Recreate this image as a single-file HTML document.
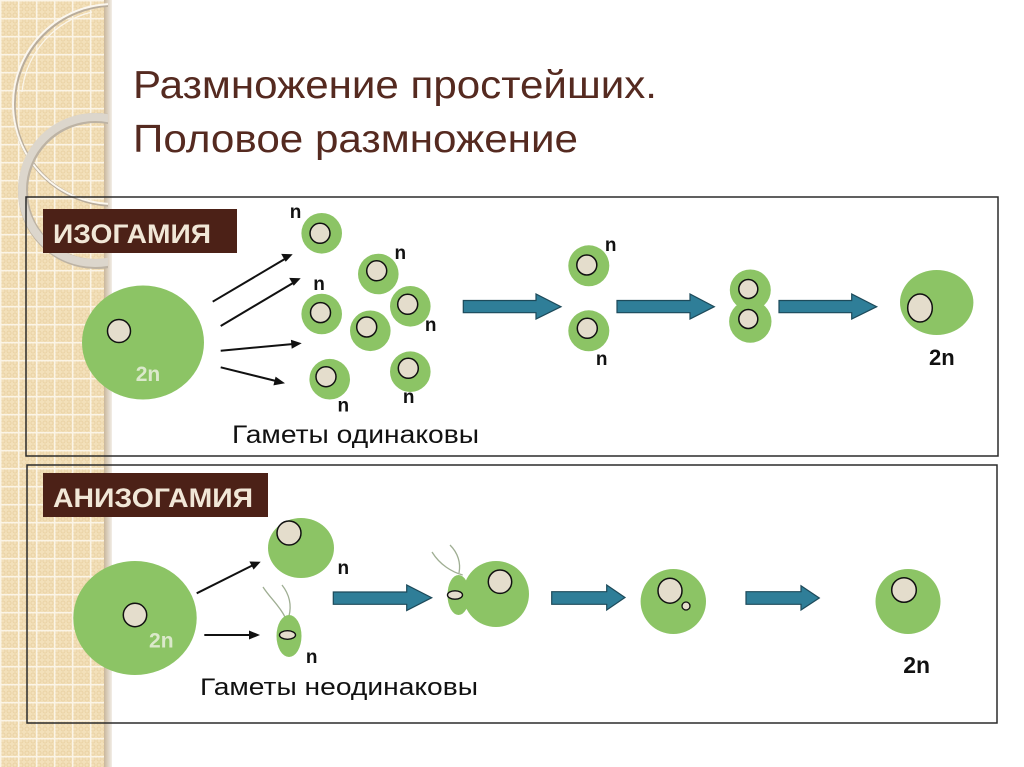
<!DOCTYPE html>
<html><head><meta charset="utf-8">
<style>
html,body{margin:0;padding:0;background:#fff;}
svg{display:block;}
text{font-family:"Liberation Sans","DejaVu Sans",sans-serif;}
</style></head>
<body>
<svg width="1024" height="767" viewBox="0 0 1024 767" xmlns="http://www.w3.org/2000/svg">
<defs>
  <pattern id="dots" width="6" height="6" patternUnits="userSpaceOnUse">
    <rect width="6" height="6" fill="#f3e0ba"/>
    <circle cx="3" cy="3" r="2" fill="none" stroke="#e9d1a3" stroke-width="0.9"/>
  </pattern>
  <pattern id="grid" width="18" height="18" patternUnits="userSpaceOnUse">
    <rect width="18" height="18" fill="url(#dots)"/>
    <rect x="0" y="0" width="1.5" height="18" fill="#fbf4e6"/>
    <rect x="0" y="0" width="18" height="1.5" fill="#fbf4e6"/>
  </pattern>
  <linearGradient id="shadow" x1="0" x2="1" y1="0" y2="0">
    <stop offset="0" stop-color="#c9b79c"/>
    <stop offset="1" stop-color="#f2ede6"/>
  </linearGradient>
  <clipPath id="stripclip"><rect x="0" y="0" width="108" height="767"/></clipPath>
</defs>

<!-- left decorative strip -->
<rect x="0" y="0" width="108" height="767" fill="url(#grid)"/>
<rect x="104" y="0" width="8" height="767" fill="url(#shadow)"/>
<g clip-path="url(#stripclip)" fill="none">
  <circle cx="114" cy="105" r="100" stroke="#b9ad9c" stroke-width="3.5"/>
  <circle cx="113" cy="104" r="100" stroke="#fbf7ef" stroke-width="2"/>
  <circle cx="96" cy="191" r="73" stroke="#bdb3a4" stroke-width="10"/>
  <circle cx="95" cy="190" r="73" stroke="#dcd6cc" stroke-width="8"/>
  <path d="M92 12 A 92 92 0 0 0 22 92" stroke="#fbf6ec" stroke-width="1.2"/>
</g>

<!-- title -->
<text x="133" y="98" font-size="39" fill="#552a20" textLength="524" lengthAdjust="spacingAndGlyphs">Размножение простейших.</text>
<text x="133" y="152" font-size="39" fill="#552a20" textLength="445" lengthAdjust="spacingAndGlyphs">Половое размножение</text>

<!-- frames -->
<rect x="26" y="197" width="972" height="259" fill="none" stroke="#2b2b2b" stroke-width="1.5"/>
<rect x="27" y="465" width="970" height="258" fill="none" stroke="#2b2b2b" stroke-width="1.5"/>

<!-- labels -->
<rect x="43" y="209" width="194" height="44" fill="#4c2117"/>
<text x="53" y="243" font-size="27" font-weight="bold" fill="#f1e7d7" textLength="158" lengthAdjust="spacingAndGlyphs">ИЗОГАМИЯ</text>
<rect x="43" y="473" width="225" height="44" fill="#4c2117"/>
<text x="53" y="507" font-size="27" font-weight="bold" fill="#f1e7d7" textLength="200" lengthAdjust="spacingAndGlyphs">АНИЗОГАМИЯ</text>

<!-- ===== ISOGAMY ===== -->
<g>
  <ellipse cx="143" cy="342.5" rx="61" ry="57" fill="#8cc465"/>
  <circle cx="119" cy="331" r="11.5" fill="#e4ddcc" stroke="#111" stroke-width="1.5"/>
  <text x="148" y="381" font-size="21" font-weight="bold" fill="#dbe9cb" text-anchor="middle">2n</text>

  <!-- black arrows -->
  <g stroke="#111" stroke-width="2" fill="#111">
    <line x1="212.7" y1="301.7" x2="285" y2="258.9"/>
    <line x1="220.7" y1="326" x2="293" y2="283"/>
    <line x1="220.7" y1="350.7" x2="292" y2="344.1"/>
    <line x1="220.7" y1="367.3" x2="276" y2="381"/>
  </g>
  <g fill="#111">
    <polygon points="292.7,254.3 281.2,253.9 285.7,261.7"/>
    <polygon points="300.7,278.3 289.2,277.9 293.7,285.7"/>
    <polygon points="301.7,343.3 290.9,339.8 291.7,348.8"/>
    <polygon points="285,383.3 275.6,376.6 273.4,385.4"/>
  </g>

  <!-- gametes -->
  <g fill="#8cc465">
    <circle cx="321.7" cy="233.3" r="20.3"/>
    <circle cx="378.3" cy="274" r="20.3"/>
    <circle cx="321.7" cy="314" r="20.3"/>
    <circle cx="410.3" cy="306.3" r="20.3"/>
    <circle cx="370.3" cy="330.8" r="20.3"/>
    <circle cx="329.7" cy="379.2" r="20.3"/>
    <circle cx="410.3" cy="371.7" r="20.3"/>
  </g>
  <g fill="#e4ddcc" stroke="#111" stroke-width="1.5">
    <circle cx="320" cy="233.3" r="10"/>
    <circle cx="376.7" cy="270.8" r="10"/>
    <circle cx="320.5" cy="312.6" r="10"/>
    <circle cx="407.7" cy="304.3" r="10"/>
    <circle cx="366.7" cy="327" r="10"/>
    <circle cx="326" cy="376.7" r="10"/>
    <circle cx="408.3" cy="368.3" r="10"/>
  </g>
  <g font-size="19" font-weight="bold" fill="#111" text-anchor="middle">
    <text x="295.5" y="218">n</text>
    <text x="400.3" y="259">n</text>
    <text x="319" y="290">n</text>
    <text x="430.7" y="331">n</text>
    <text x="343.3" y="411.5">n</text>
    <text x="408.7" y="403">n</text>
  </g>
  <text x="232" y="443" font-size="25" fill="#111" textLength="247" lengthAdjust="spacingAndGlyphs">Гаметы одинаковы</text>

  <!-- teal arrows -->
  <g fill="#2f7e98" stroke="#1d4a5a" stroke-width="1.2" stroke-linejoin="miter">
    <polygon points="463.3,300.5 536,300.5 536,294 561,306.7 536,319 536,312.7 463.3,312.7"/>
    <polygon points="617,300.5 690,300.5 690,294 714.3,306.7 690,319 690,312.7 617,312.7"/>
    <polygon points="779,300.5 851.7,300.5 851.7,294 876.7,306.7 851.7,319 851.7,312.7 779,312.7"/>
  </g>

  <!-- pair -->
  <circle cx="588.8" cy="265.8" r="20.5" fill="#8cc465"/>
  <circle cx="588.8" cy="330.8" r="20.5" fill="#8cc465"/>
  <circle cx="586.8" cy="265" r="10" fill="#e4ddcc" stroke="#111" stroke-width="1.5"/>
  <circle cx="587.3" cy="328.3" r="10" fill="#e4ddcc" stroke="#111" stroke-width="1.5"/>
  <text x="610.7" y="251" font-size="19" font-weight="bold" fill="#111" text-anchor="middle">n</text>
  <text x="601.7" y="365" font-size="19" font-weight="bold" fill="#111" text-anchor="middle">n</text>

  <!-- fusing -->
  <circle cx="750.3" cy="290" r="20.5" fill="#8cc465"/>
  <circle cx="750.3" cy="321.5" r="21.2" fill="#8cc465"/>
  <circle cx="748.3" cy="289" r="9.5" fill="#e4ddcc" stroke="#111" stroke-width="1.5"/>
  <circle cx="748.3" cy="319" r="9.5" fill="#e4ddcc" stroke="#111" stroke-width="1.5"/>

  <!-- zygote -->
  <ellipse cx="936.7" cy="302.5" rx="36.7" ry="32.5" fill="#8cc465"/>
  <ellipse cx="920" cy="308" rx="12.3" ry="14" fill="#e4ddcc" stroke="#111" stroke-width="1.5"/>
  <text x="941.8" y="365" font-size="22" font-weight="bold" fill="#111" text-anchor="middle">2n</text>
</g>

<!-- ===== ANISOGAMY ===== -->
<g>
  <ellipse cx="135" cy="618" rx="61.7" ry="57" fill="#8cc465"/>
  <circle cx="135" cy="615" r="11.7" fill="#e4ddcc" stroke="#111" stroke-width="1.5"/>
  <text x="161.3" y="647.5" font-size="21" font-weight="bold" fill="#dbe9cb" text-anchor="middle">2n</text>

  <!-- black arrows -->
  <line x1="196.7" y1="593.3" x2="252.5" y2="565.4" stroke="#111" stroke-width="2"/>
  <polygon points="260.7,561.7 249.4,561.5 253.6,569.6" fill="#111"/>
  <line x1="204.3" y1="635" x2="250" y2="635" stroke="#111" stroke-width="2"/>
  <polygon points="260,635 249,630.5 249,639.5" fill="#111"/>

  <!-- big gamete -->
  <ellipse cx="301" cy="548" rx="33" ry="30" fill="#8cc465"/>
  <circle cx="289" cy="533" r="12" fill="#e4ddcc" stroke="#111" stroke-width="1.5"/>
  <text x="343.3" y="574" font-size="19" font-weight="bold" fill="#111" text-anchor="middle">n</text>

  <!-- small gamete -->
  <path d="M285 617 C 279 605, 270 598, 263 587" fill="none" stroke="#9fae93" stroke-width="1.3"/>
  <path d="M289 616 C 292 604, 289 594, 282 585" fill="none" stroke="#9fae93" stroke-width="1.3"/>
  <ellipse cx="289" cy="636" rx="12.5" ry="21" fill="#8cc465"/>
  <ellipse cx="287.5" cy="635" rx="8" ry="4.3" fill="#e4ddcc" stroke="#111" stroke-width="1.4"/>
  <text x="311.7" y="663" font-size="19" font-weight="bold" fill="#111" text-anchor="middle">n</text>

  <text x="200" y="695" font-size="24" fill="#111" textLength="278" lengthAdjust="spacingAndGlyphs">Гаметы неодинаковы</text>

  <!-- teal arrows -->
  <g fill="#2f7e98" stroke="#1d4a5a" stroke-width="1.2">
    <polygon points="333.3,592 406.7,592 406.7,585 431.7,597.7 406.7,610.5 406.7,604.3 333.3,604.3"/>
    <polygon points="551.7,591.7 606.7,591.7 606.7,585 625,597.5 606.7,610 606.7,604.3 551.7,604.3"/>
    <polygon points="746,591.7 801,591.7 801,585.7 819.3,598 801,610 801,604.3 746,604.3"/>
  </g>

  <!-- fusing -->
  <path d="M432 552 C 440 565, 452 572, 462.7 575" fill="none" stroke="#9fae93" stroke-width="1.3"/>
  <path d="M450 545 C 458 553, 461 563, 459 573" fill="none" stroke="#9fae93" stroke-width="1.3"/>
  <ellipse cx="458.5" cy="595" rx="11" ry="20" fill="#8cc465"/>
  <circle cx="496" cy="594" r="33" fill="#8cc465"/>
  <ellipse cx="455" cy="595" rx="7.5" ry="4.2" fill="#e4ddcc" stroke="#111" stroke-width="1.4"/>
  <circle cx="500" cy="581.7" r="11.7" fill="#e4ddcc" stroke="#111" stroke-width="1.5"/>

  <!-- zygote -->
  <ellipse cx="673.3" cy="601.5" rx="32.7" ry="32.5" fill="#8cc465"/>
  <ellipse cx="670" cy="590.7" rx="12" ry="12.5" fill="#e4ddcc" stroke="#111" stroke-width="1.5"/>
  <circle cx="686" cy="606" r="4" fill="#e4ddcc" stroke="#111" stroke-width="1.3"/>

  <!-- final -->
  <circle cx="908" cy="601.5" r="32.5" fill="#8cc465"/>
  <circle cx="904" cy="590" r="12.3" fill="#e4ddcc" stroke="#111" stroke-width="1.5"/>
  <text x="916.7" y="673" font-size="23" font-weight="bold" fill="#111" text-anchor="middle">2n</text>
</g>
</svg>
</body></html>
